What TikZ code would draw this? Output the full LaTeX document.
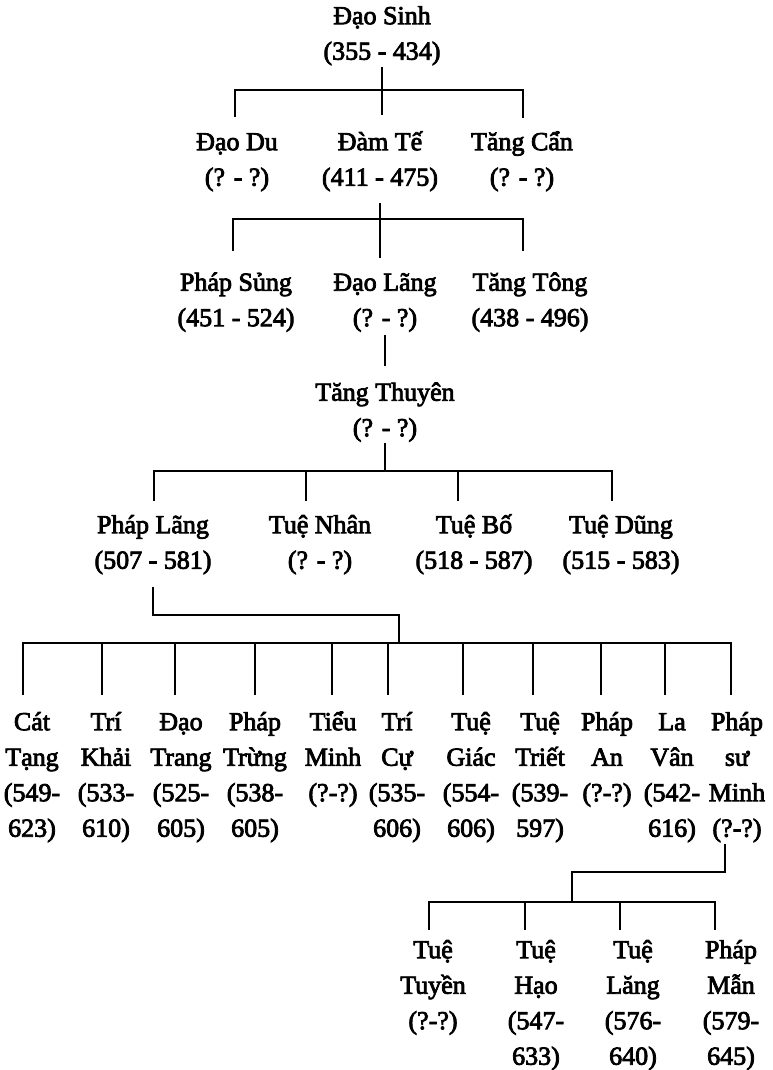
\documentclass[tikz,border=0pt]{standalone}
\usepackage{fontspec}
\newfontfamily\tf{Liberation Serif}[FakeBold=3]
\newcommand\tl[1]{\rule[-7pt]{0pt}{27pt}\smash{#1}}
\begin{document}
\begin{tikzpicture}[x=1pt,y=-1pt,
  person/.style={anchor=north,align=center,inner sep=0pt,font=\tf\fontsize{26}{35.5}\selectfont},
  link/.style={line width=2.2pt}]
\fill[white] (0,0) rectangle (772,1070);
\useasboundingbox (0,0) rectangle (772,1070);

% ---------- people ----------
\node[person] (dsinh) at (382,4) {\tl{Đạo Sinh}\\\tl{(355 - 434)}};

\node[person] (ddu)  at (237,130) {\tl{Đạo Du}\\\tl{(? - ?)}};
\node[person] (dte)  at (380,130) {\tl{Đàm Tế}\\\tl{(411 - 475)}};
\node[person] (tcan) at (522,130) {\tl{Tăng Cẩn}\\\tl{(? - ?)}};

\node[person] (psung) at (236,270.5) {\tl{Pháp Sủng}\\\tl{(451 - 524)}};
\node[person] (dlang) at (385,270.5) {\tl{Đạo Lãng}\\\tl{(? - ?)}};
\node[person] (ttong) at (530,270.5) {\tl{Tăng Tông}\\\tl{(438 - 496)}};

\node[person] (tthuyen) at (385,380.5) {\tl{Tăng Thuyên}\\\tl{(? - ?)}};

\node[person] (plang) at (153,513) {\tl{Pháp Lãng}\\\tl{(507 - 581)}};
\node[person] (tnhan) at (320,513) {\tl{Tuệ Nhân}\\\tl{(? - ?)}};
\node[person] (tbo)   at (474,513) {\tl{Tuệ Bố}\\\tl{(518 - 587)}};
\node[person] (tdung) at (621,513) {\tl{Tuệ Dũng}\\\tl{(515 - 583)}};

\node[person] (c1)  at (32,710)  {\tl{Cát}\\\tl{Tạng}\\\tl{(549-}\\\tl{623)}};
\node[person] (c2)  at (106,710) {\tl{Trí}\\\tl{Khải}\\\tl{(533-}\\\tl{610)}};
\node[person] (c3)  at (181,710) {\tl{Đạo}\\\tl{Trang}\\\tl{(525-}\\\tl{605)}};
\node[person] (c4)  at (255,710) {\tl{Pháp}\\\tl{Trừng}\\\tl{(538-}\\\tl{605)}};
\node[person] (c5)  at (333,710) {\tl{Tiểu}\\\tl{Minh}\\\tl{(?-?)}};
\node[person] (c6)  at (397,710) {\tl{Trí}\\\tl{Cự}\\\tl{(535-}\\\tl{606)}};
\node[person] (c7)  at (471,710) {\tl{Tuệ}\\\tl{Giác}\\\tl{(554-}\\\tl{606)}};
\node[person] (c8)  at (540,710) {\tl{Tuệ}\\\tl{Triết}\\\tl{(539-}\\\tl{597)}};
\node[person] (c9)  at (607,710) {\tl{Pháp}\\\tl{An}\\\tl{(?-?)}};
\node[person] (c10) at (672,710) {\tl{La}\\\tl{Vân}\\\tl{(542-}\\\tl{616)}};
\node[person] (c11) at (737,710) {\tl{Pháp}\\\tl{sư}\\\tl{Minh}\\\tl{(?-?)}};

\node[person] (d1) at (433,938) {\tl{Tuệ}\\\tl{Tuyền}\\\tl{(?-?)}};
\node[person] (d2) at (536,938) {\tl{Tuệ}\\\tl{Hạo}\\\tl{(547-}\\\tl{633)}};
\node[person] (d3) at (633,938) {\tl{Tuệ}\\\tl{Lăng}\\\tl{(576-}\\\tl{640)}};
\node[person] (d4) at (731,938) {\tl{Pháp}\\\tl{Mẫn}\\\tl{(579-}\\\tl{645)}};

% ---------- bar levels and drop tops ----------
\coordinate (b1) at (0,90);
\coordinate (b2) at (0,219);
\coordinate (b4) at (0,471);
\coordinate (b5) at (0,643);
\coordinate (b6) at (0,902);

\coordinate (ddu-t)   at ([xshift=-2pt]ddu.north);
\coordinate (tcan-t)  at ([xshift=1pt]tcan.north);
\coordinate (psung-t) at ([xshift=-3pt]psung.north);
\coordinate (ttong-t) at ([xshift=-7pt]ttong.north);
\coordinate (plang-t) at ([xshift=1pt]plang.north);
\coordinate (tnhan-t) at ([xshift=-14pt]tnhan.north);
\coordinate (tbo-t)   at ([xshift=-16pt]tbo.north);
\coordinate (tdung-t) at ([xshift=-9pt]tdung.north);
\coordinate (c1-t)  at ([xshift=-9pt]c1.north);
\coordinate (c2-t)  at ([xshift=-4pt]c2.north);
\coordinate (c3-t)  at ([xshift=-6pt]c3.north);
\coordinate (c4-t)  at (c4.north);
\coordinate (c5-t)  at ([xshift=-1pt]c5.north);
\coordinate (c6-t)  at ([xshift=-9pt]c6.north);
\coordinate (c7-t)  at ([xshift=-8pt]c7.north);
\coordinate (c8-t)  at ([xshift=-7pt]c8.north);
\coordinate (c9-t)  at ([xshift=-6pt]c9.north);
\coordinate (c10-t) at ([xshift=-7pt]c10.north);
\coordinate (c11-t) at ([xshift=-6pt]c11.north);
\coordinate (d1-t) at ([xshift=-4pt]d1.north);
\coordinate (d2-t) at ([xshift=-11pt]d2.north);
\coordinate (d3-t) at ([xshift=-13pt]d3.north);
\coordinate (d4-t) at ([xshift=-16pt]d4.north);

\coordinate (plj) at (399,615);
\coordinate (psm-s) at ([xshift=-12pt]c11.south);
\coordinate (pmj) at (572,872);

% ---------- connectors ----------
% Dao Sinh
\draw[link,shorten >=15pt] (dsinh.south) -- (dsinh.south |- dte.north);
\draw[link,shorten <=13pt,shorten >=12pt] (ddu-t) |- (dsinh.south |- b1) -| (tcan-t);
% Dam Te
\draw[link,shorten <=10pt,shorten >=13pt] (dte.south) -- (dte.south |- dlang.north);
\draw[link,shorten <=20pt,shorten >=20pt] (psung-t) |- (dte.south |- b2) -| (ttong-t);
% Dao Lang
\draw[link,shorten <=2pt,shorten >=15pt] (dlang.south) -- (dlang.south |- tthuyen.north);
% Tang Thuyen
\draw[link] (tthuyen.south) -- (tthuyen.south |- b4);
\draw[link,shorten <=12pt,shorten >=12pt] (plang-t) |- (tthuyen.south |- b4) -| (tdung-t);
\draw[link,shorten >=12pt] (tnhan-t |- b4) -- (tnhan-t);
\draw[link,shorten >=12pt] (tbo-t |- b4) -- (tbo-t);
% Phap Lang
\draw[link,shorten <=11pt] (plang.south) |- (plj) -- (plj |- b5);
\draw[link,shorten <=15pt,shorten >=15pt] (c1-t) |- (plj |- b5) -| (c11-t);
\foreach \c in {c2,c3,c4,c5,c6,c7,c8,c9,c10}
  \draw[link,shorten >=15pt] (\c-t |- b5) -- (\c-t);
% Phap su Minh
\draw[link] (psm-s) |- (pmj) -- (pmj |- b6);
\draw[link,shorten <=8pt,shorten >=8pt] (d1-t) |- (pmj |- b6) -| (d4-t);
\foreach \d in {d2,d3}
  \draw[link,shorten >=8pt] (\d-t |- b6) -- (\d-t);
\end{tikzpicture}
\end{document}
